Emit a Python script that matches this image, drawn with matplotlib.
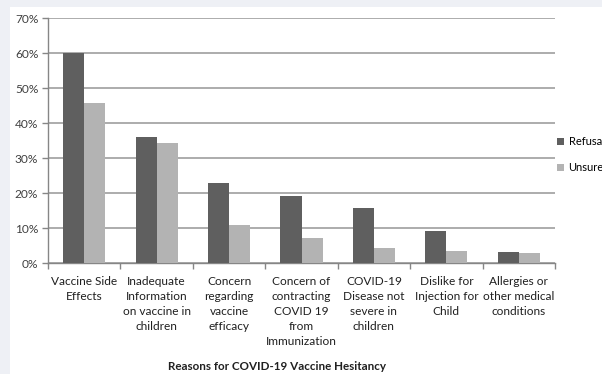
import numpy as np
import matplotlib.pyplot as plt
from matplotlib.patches import Rectangle

plt.rcParams['font.family'] = ['Lato', 'DejaVu Sans']

categories = [
    "Vaccine Side\nEffects",
    "Inadequate\nInformation\non vaccine in\nchildren",
    "Concern\nregarding\nvaccine\nefficacy",
    "Concern of\ncontracting\nCOVID 19\nfrom\nImmunization",
    "COVID-19\nDisease not\nsevere in\nchildren",
    "Dislike for\nInjection for\nChild",
    "Allergies or\nother medical\nconditions",
]
refusal = [60.0, 35.9, 22.8, 19.2, 15.6, 9.1, 3.1]
unsure = [45.7, 34.3, 11.0, 7.2, 4.2, 3.4, 2.8]
yticks = [0, 10, 20, 30, 40, 50, 60, 70]

fig = plt.figure(figsize=(6.02, 3.74), dpi=100)
fig.patch.set_facecolor('#eef0f5')
# white chart panel
fig.add_artist(Rectangle((10 / 602, 0), 1, 1 - 7 / 374, transform=fig.transFigure,
                         facecolor='white', edgecolor='none', zorder=0))

ax = fig.add_axes([48 / 602, 1 - 263 / 374, 507 / 602, 245 / 374])
ax.set_facecolor('white')

x = np.arange(len(categories))
w = 0.29
ax.bar(x - w / 2, refusal, w, color='#5f5f5f', label='Refusal', zorder=3)
ax.bar(x + w / 2, unsure, w, color='#b3b3b3', label='Unsure', zorder=3)

ax.set_xlim(-0.5, len(categories) - 0.5)
ax.set_ylim(0, 70)
ax.set_yticks(yticks)
ax.set_yticklabels([f"{v}%" for v in yticks], fontsize=8.6, color='#404040')
ax.yaxis.grid(True, color='#a6a6a6', linewidth=1.3, zorder=0)
ax.set_axisbelow(True)

ax.set_xticks(np.arange(len(categories) + 1) - 0.5)
ax.set_xticklabels([])
ax.tick_params(axis='x', length=4, color='#868686', width=1)
ax.tick_params(axis='y', length=4, color='#868686', width=1, pad=3)
for i, lab in enumerate(categories):
    ax.text(i, -3.6, lab, ha='center', va='top', fontsize=8.6, color='#202020',
            linespacing=1.45)

for s in ['top', 'right']:
    ax.spines[s].set_visible(False)
for s in ['left', 'bottom']:
    ax.spines[s].set_color('#868686')
    ax.spines[s].set_linewidth(1)

ax.legend(loc='center left', bbox_to_anchor=(0.996, 0.441), frameon=False,
          fontsize=8.0, handlelength=0.6, handleheight=0.6, handletextpad=0.4,
          labelspacing=1.35, borderaxespad=0.0)

fig.text(277 / 602, 1 - 366 / 374, "Reasons for COVID-19 Vaccine Hesitancy",
         ha='center', va='center', fontsize=8.4, fontweight='bold', color='#202020')

fig.savefig('out.png', dpi=100, facecolor=fig.get_facecolor())
